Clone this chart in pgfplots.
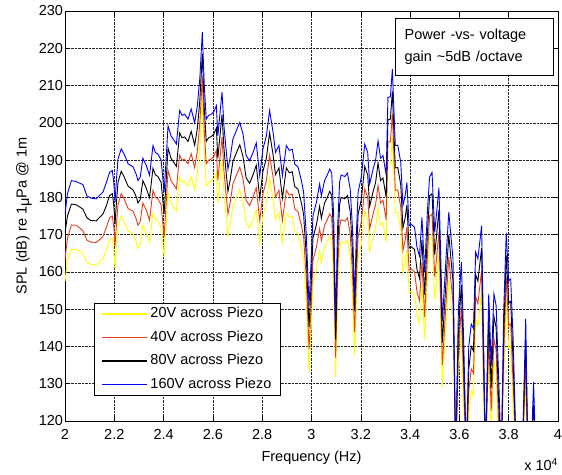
\documentclass[border=0pt]{standalone}
\usepackage{fontspec}
\setmainfont{Liberation Sans}
\usepackage{pgfplots}
\pgfplotsset{compat=1.18}
\usepackage{pgfplotstable}
\usetikzlibrary{calc}
\definecolor{myyellow}{RGB}{255,255,0}
\definecolor{myred}{RGB}{235,60,25}
\definecolor{myblue}{RGB}{0,0,255}

\pgfplotstableread{
f blu blk red yel
2.000 175.5 170.5 163.5 157.5
2.010 181 175 169 163
2.026 184.5 178.2 172.6 166.1
2.046 184.2 178 172.5 166
2.060 183.8 177.4 171.8 165.5
2.073 183.4 176.8 171 165
2.089 180.4 174.5 168.5 162.5
2.105 179.8 173.8 168 162
2.127 179.6 173.7 167.9 161.9
2.140 180.5 174.6 168.6 162.6
2.154 181.4 175.5 169.5 163.5
2.168 184 177.8 172 166
2.181 186.7 180.5 174.5 168.5
2.192 187.2 181 175 169
2.198 184 178 172 166
2.203 178.8 172.8 167 160.8
2.209 185 179 173 167
2.215 190.3 184 178 172
2.228 193 187 181 175
2.240 191.6 185.5 179.6 173.5
2.256 189 183 177 171
2.276 188.2 182 176.3 170.2
2.290 186 180 174 168
2.296 184.5 178.5 172.5 166.3
2.305 185.4 179.4 173.5 167.4
2.316 190.5 184.5 178.5 172.5
2.330 188.5 182.4 176.5 170.5
2.343 185.9 179.9 173.9 167.9
2.357 193.9 187.8 181.9 175.8
2.367 192 186 180 174
2.377 191.6 185.6 179.6 173.6
2.390 190 184 178 172
2.402 181.4 175.5 169.4 164
2.410 190 184 178 172
2.418 199.2 193.2 187.2 181.2
2.430 196.5 190.5 184.5 178.5
2.440 195.5 189.5 183.5 177.5
2.452 194.3 188.3 182.3 176.3
2.465 203.3 197.3 191.3 185.3
2.475 202 196 190 184
2.485 202.3 196.2 190.2 184.2
2.499 201 195 189 183
2.512 203.7 197.7 191.7 185.7
2.526 200 194 188 182
2.537 204.6 198.5 192.5 186.5
2.547 212 206 200 194
2.557 224.3 218.5 212.2 206.4
2.565 210 204 198 192
2.573 201 195 189 183
2.583 202 196 190 184
2.593 202.3 196.3 190.3 184.3
2.604 203 197 191 185
2.614 204.6 198.6 192.6 186.6
2.620 196.5 190.5 184.5 178.5
2.637 208.2 202.2 196.2 190.2
2.645 199 193 187 181
2.652 193.9 187.9 181.9 175.9
2.661 187.6 181.6 175.6 169.6
2.671 191 185 179 173
2.681 195.6 189.6 183.6 177.6
2.695 197.9 191.9 185.9 179.9
2.709 200.1 194.1 188.1 182.1
2.722 197 191 185 179
2.735 191.2 185.2 179.2 173.2
2.749 189.8 183.8 177.8 171.8
2.763 192.1 186.1 180.1 174.1
2.776 194.6 188.6 182.6 176.6
2.790 185.8 179.8 173.8 167.8
2.803 193 187 181 175
2.817 196.5 190.5 184.5 178.5
2.830 203.3 197.3 191.3 185.3
2.844 197.5 191.5 185.5 179.5
2.854 192.1 186.1 180.1 174.1
2.868 193.9 187.9 181.9 175.9
2.882 185.8 179.8 173.8 167.8
2.898 193.9 187.9 181.9 175.9
2.910 192.6 186.6 180.6 174.6
2.922 192.9 186.9 180.9 174.9
2.932 188.9 182.9 176.9 170.9
2.945 188.2 182.2 176.2 170.2
2.959 184.5 178.5 172.5 166.5
2.968 181.4 175.4 169.4 163.4
2.979 169.7 164 158 152
2.990 151 145.2 139.3 133.1
3.000 165 159 153 147
3.006 175.1 169.1 163.1 157.1
3.020 178.7 172.7 166.7 160.7
3.033 183.6 177.6 171.6 165.6
3.040 180.4 174.4 168.4 162.4
3.053 184.5 178.5 172.5 166.5
3.064 186 180 174 168
3.074 187.6 181.6 175.6 169.6
3.082 186.5 180.5 174.5 168.5
3.090 175 169 163 157
3.098 147 142 137 131.8
3.106 172 166 160 154
3.114 184 178 172 166
3.120 186 180 174 168
3.135 185.6 179.6 173.6 167.6
3.146 186.5 180.5 174.5 168.5
3.157 182.2 176.2 170.2 164.2
3.166 172 166 160 154
3.175 153 149.6 143.9 137.5
3.182 170 164 158 152
3.189 181.4 175.4 169.4 163.4
3.202 185.4 179.4 173.4 167.4
3.216 194.3 188.3 182.3 176.3
3.228 192 186 180 174
3.236 183.6 177.6 171.6 165.6
3.250 187.6 181.6 175.6 169.6
3.260 190 184 178 172
3.270 195.2 189.2 183.2 177.2
3.280 190.5 184.5 178.5 172.5
3.290 191.2 185.2 179.2 173.2
3.303 186 180 174 168
3.310 206.8 200.8 194.8 188.8
3.320 207 201 195 189
3.328 214.4 208.4 202.4 196.4
3.334 204 198 192 186
3.340 193.9 187.9 181.9 175.9
3.350 194 188 182 176
3.362 189.4 183.4 177.4 171.4
3.371 177.8 171.8 165.8 159.8
3.380 180.5 174.5 168.5 162.5
3.387 184 178 172 166
3.396 172.4 166.4 160.4 154.4
3.404 172.8 166.8 160.8 154.8
3.418 172 166 160 154
3.428 166.6 160.6 154.6 148.6
3.438 164.3 158.3 152.3 146.3
3.448 174.6 168.6 162.6 156.6
3.459 159.9 153.9 147.9 141.9
3.470 176 170 164 158
3.479 185.4 180.4 175 168.8
3.489 186.7 181 175.5 169.5
3.500 170.6 164.6 158.6 152.6
3.517 182.6 176.6 170.6 164.6
3.531 146.9 141 135 129
3.544 161.7 155.7 149.7 143.7
3.557 176 170 164 158
3.565 170 164 158 152
3.574 163.5 157.5 151.5 145.5
3.585 110 110 110 110
3.596 150 144 138 132
3.608 162.6 156.6 150.6 144.6
3.618 140 134 128 122
3.628 110 110 110 110
3.638 140 134 128 122
3.648 146 140 134 128
3.657 144.8 138.8 132.8 126.8
3.666 165.3 159.3 153.3 147.3
3.675 163.5 157.5 151.5 145.5
3.690 172.4 166.4 160.4 154.4
3.696 150 144 138 132
3.706 110 110 110 110
3.719 154.1 148.1 142.1 136.1
3.729 134.8 128.8 122.8 116.8
3.740 154.1 148.1 142.1 136.1
3.749 151 145 139 133
3.760 130 124 118 112
3.770 110 110 110 110
3.780 150 144 138 132
3.790 170.5 164.5 158.5 152.5
3.800 157.6 151.6 145.6 139.6
3.808 158.1 152.1 146.1 140.1
3.818 142 136 130 124
3.831 110 110 110 110
3.855 110 110 110 110
3.869 147.4 141.4 135.4 129.4
3.878 110 110 110 110
3.890 110 110 110 110
3.901 130.4 124.4 118 112
3.910 110 110 110 110
4.000 110 110 110 110
}\spl

\begin{document}
\begin{tikzpicture}
\begin{axis}[name=ax, scale only axis, width=493pt, height=410pt,
  xmin=2, xmax=4, ymin=120, ymax=230,
  xtick={2,2.2,2.4,2.6,2.8,3,3.2,3.4,3.6,3.8,4},
  xticklabels={2,2.2,2.4,2.6,2.8,3,3.2,3.4,3.6,3.8,4},
  ytick={120,130,140,150,160,170,180,190,200,210,220,230},
  grid=major, grid style={densely dotted, black!85, line width=0.6pt},
  tick align=inside, major tick length=5pt,
  axis line style={line width=0.8pt},
  tick style={black, line width=0.6pt},
  font=\fontsize{14.5}{17}\selectfont,
  /pgf/number format/assume math mode=true,
  xticklabel style={yshift=-5pt},
  yticklabel style={xshift=1.5pt},
  xlabel={Frequency (Hz)},
  xlabel style={yshift=-4pt},
  ylabel={SPL (dB) re 1\raisebox{-2.5pt}{μ}Pa @ 1m},
  legend cell align=left,
  legend style={at={(0.0594,0.0617)}, anchor=south west, draw=black, fill=white,
    line width=0.8pt, inner xsep=6.7pt, inner ysep=2pt, row sep=6pt, column sep=1pt,
    font=\fontsize{14.5}{17}\selectfont,
    nodes={text height=10.5pt, text depth=3pt, inner xsep=2pt}},
  legend image code/.code={\draw[#1, line width=1.1pt] (0pt,0pt) -- (45pt,0pt);},
]
\addplot[myyellow, line width=0.9pt] table[x=f,y=yel]{\spl};
\addlegendentry{20V across Piezo}
\addplot[myred, line width=0.9pt] table[x=f,y=red]{\spl};
\addlegendentry{40V across Piezo}
\addplot[black, line width=0.9pt] table[x=f,y=blk]{\spl};
\addlegendentry{80V across Piezo}
\addplot[myblue, line width=0.9pt] table[x=f,y=blu]{\spl};
\addlegendentry{160V across Piezo}
\end{axis}
\node[anchor=base east, font=\fontsize{14.5}{17}\selectfont, inner sep=0pt]
  at ($(ax.south east)+(0pt,-50pt)$) {x 10\textsuperscript{4}};
\node[anchor=north east, draw=black, fill=white, line width=0.8pt, align=left,
  text width=140pt, inner xsep=9pt, inner ysep=10.8pt,
  font=\fontsize{14.5}{21.4}\selectfont]
  at ($(ax.north east)+(-4pt,-7.3pt)$) {Power -vs- voltage\\gain \textasciitilde5dB /octave};
\pgfresetboundingbox
\path ($(ax.south west)+(-65pt,-54pt)$) rectangle ($(ax.north east)+(4pt,11pt)$);
\end{tikzpicture}
\end{document}
